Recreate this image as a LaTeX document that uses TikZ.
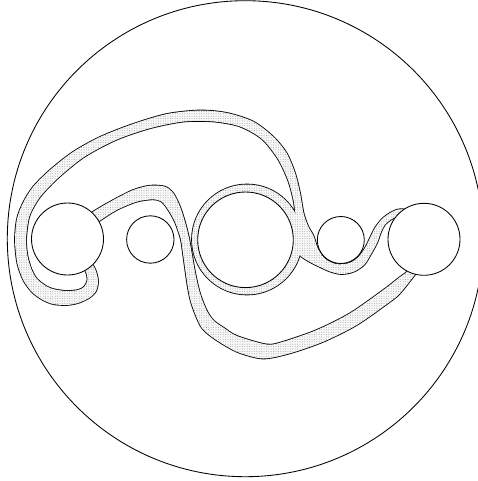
\documentclass[tikz,border=0pt]{standalone}
\usetikzlibrary{patterns}
\pgfdeclarepatternformonly{stipple}{\pgfqpoint{-0.5pt}{-0.5pt}}{\pgfqpoint{0.5pt}{0.5pt}}{\pgfqpoint{2.4pt}{2.4pt}}{\pgfpathcircle{\pgfqpoint{0pt}{0pt}}{0.38pt}\pgfusepath{fill}}
\tikzset{
  outl/.style={draw=black, line width=1.7pt, line join=round},
  band/.style={pattern=stipple, pattern color=black!50, preaction={fill=black!3}},
  ball/.style={circle, draw=black, fill=white, inner sep=0pt, line width=0.85pt},
  rim/.style={draw=black, line width=0.85pt},
}
\def\ringdisk{(247,239.5) circle[radius=55pt]}
\def\tubeAC{plot[smooth] coordinates {(80,252) (93.5,266) (98,280) (96,291) (89,298) (78,303) (66.7,305) (53,304) (42,299.5) (32,292) (23.3,280) (17.3,263) (15,240) (17,219) (23,203) (33,187) (50,170) (73,152) (100,137) (133,124) (167,114) (200,110.5) (227,113) (253,121.5) (273,136.5) (286.5,153) (295,173) (300,193) (303.5,213) (308,226) (313.5,236) (317.8,248.4) (325.1,258.8) (336.5,264.1) (349.2,263) (358.1,257.3) (365,248) (370,238) (375,228) (382,219) (390,213) (398,209.5) (405,209.5) (412,212)}
 -- plot[smooth] coordinates {(408,215.5) (398,216.5) (391,219.5) (385,224.5) (381,232) (377,243) (371,254) (364,265) (353,272) (341,274) (330,271.5) (320,267) (310,262) (300,255) (297.5,243) (299,230) (295.5,214) (293.5,200) (288,180) (278,159) (262,139) (240,126.5) (214,121.5) (184,121.5) (151,128) (117,139.5) (84,157) (57,179) (40,197) (31,212) (28,222) (26,240) (27.5,256) (31.7,270) (37,279) (46.7,286.5) (55,289.5) (66.7,291) (78,290) (84,287) (87.5,280) (85,270) (76,262)} -- cycle}
\def\tubeD{plot[smooth] coordinates {(78,224) (93.3,211.7) (113.3,200) (133.3,190) (150,185.7) (165,186.7) (173.3,193.3) (180,206.7) (185,222) (189,238) (192,255) (195,272) (199,290) (203,302) (208,313) (214,321) (224,328) (237,336) (266.7,344.5) (283.3,341.7) (316.7,330) (350,313.3) (383.3,290) (400,277) (405,273.5) (414,265)}
 -- plot[smooth] coordinates {(420,268) (414.7,275) (400,293.3) (390,301.7) (356.7,325) (323.3,341.7) (290,353.3) (263.3,358.5) (240,353) (226,346) (212,337) (202,328) (196,316) (191,302) (188,288) (185,268) (182.5,250) (180.5,238) (175,222) (168.3,210) (161.7,201.7) (153.3,199.3) (136.7,201.7) (116.7,210) (98.3,221.7) (82,234)} -- cycle}
\begin{document}
\begin{tikzpicture}[x=1pt,y=-1pt]
\useasboundingbox (0,0) rectangle (478,481);
\clip (0,0) rectangle (478,481);
\fill[white] (0,0) rectangle (478,481);
\draw[rim] (245.3,238.7) circle[radius=238pt];
% outlines of the bands
\path[outl] \ringdisk;
\path[outl] \tubeAC;
\path[outl] \tubeD;
% stippled fill, merging the bands
\path[band] \ringdisk;
\path[band] \tubeAC;
\path[band] \tubeD;
% the five discs
\node[ball, minimum size=72pt] (c1) at (67.5,239) {};
\node[ball, minimum size=47.4pt] (c2) at (150.3,239.5) {};
\node[ball, minimum size=95.6pt] (c3) at (245.5,239.8) {};
\node[ball, minimum size=47pt] (c4) at (340.8,240) {};
\node[ball, minimum size=72pt] (c5) at (424,239.3) {};
\end{tikzpicture}
\end{document}
